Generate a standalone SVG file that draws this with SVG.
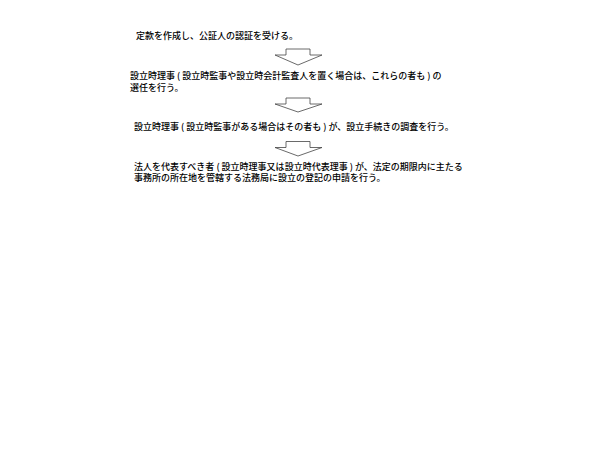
<svg xmlns="http://www.w3.org/2000/svg" width="600" height="450" viewBox="0 0 600 450">
<style>
.t{font-family:"Noto Sans CJK JP","Liberation Sans",sans-serif;font-size:9px;font-weight:500;fill:#000}
.a{fill:#fff;stroke:#444;stroke-width:0.8}
</style>
<rect width="600" height="450" fill="#fff"/>
<g id="step1"><text class="t" x="136" y="38.5">定款を作成し、公証人の認証を受ける。</text></g>
<g id="step2"><text class="t" x="130" y="79">設立時理事 ( 設立時監事や設立時会計監査人を置く場合は、これらの者も ) の</text><text class="t" x="130" y="91">選任を行う。</text></g>
<g id="step3"><text class="t" x="134" y="130">設立時理事 ( 設立時監事がある場合はその者も ) が、設立手続きの調査を行う。</text></g>
<g id="step4"><text class="t" x="134" y="169.5">法人を代表すべき者 ( 設立時理事又は設立時代表理事 ) が、法定の期限内に主たる</text><text class="t" x="134" y="181">事務所の所在地を管轄する法務局に設立の登記の申請を行う。</text></g>
<g id="connectors">
<polygon class="a" points="286,49 310,49 310,55 322,55 298,65 275,55 286,55"/>
<polygon class="a" points="286,98 310,98 310,104 322,104 298,112 275,104 286,104"/>
<polygon class="a" points="286,141.5 310,141.5 310,147.5 322,147.5 298,156 275,147.5 286,147.5"/>
</g>
</svg>
